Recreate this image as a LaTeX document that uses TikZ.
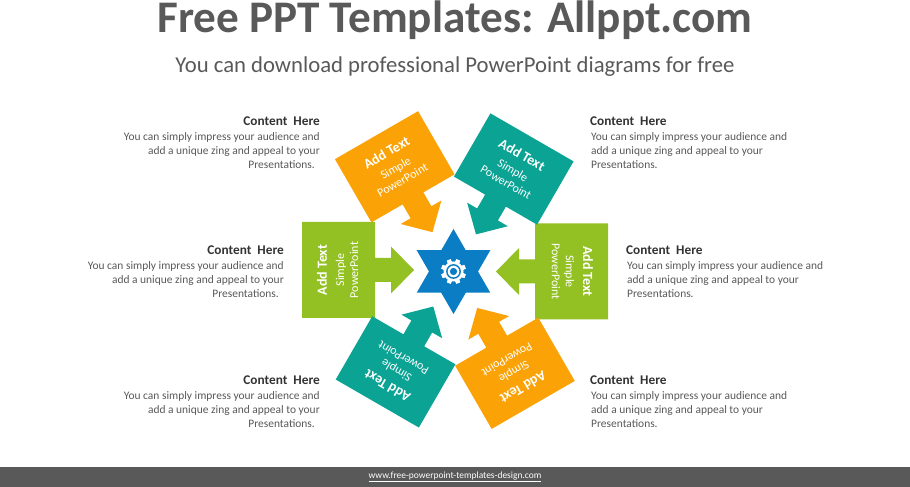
\documentclass[tikz,border=0pt]{standalone}
\usepackage{fontspec}
\setmainfont{Carlito}
\definecolor{cOrange}{HTML}{FBA207}
\definecolor{cTeal}{HTML}{0AA394}
\definecolor{cGreen}{HTML}{93C022}
\definecolor{cBlue}{HTML}{0B7DC4}
\definecolor{cGrey}{HTML}{595959}
\definecolor{cHead}{HTML}{333333}
\tikzset{
  armtitle/.style={text=white,font=\fontsize{14}{16}\selectfont\bfseries,inner sep=0pt,anchor=center},
  armtext/.style={text=white,font=\fontsize{12}{14}\selectfont,inner sep=0pt,anchor=center},
  blockhead/.style={text=cHead,font=\fontsize{13.3}{14}\selectfont\bfseries,inner sep=0pt},
  blockbody/.style={text=cGrey,font=\fontsize{11.45}{14}\selectfont,inner sep=0pt},
}
\newcommand{\armshape}[5]{%
  \begin{scope}[shift={(#2,#3)},rotate=#4]
    \fill[#5] (-73,-48) -- (0,-48) -- (0,-12) -- (16,-12) -- (16,-23.5) -- (39,0) -- (16,23.5) -- (16,12) -- (0,12) -- (0,48) -- (-73,48) -- cycle;
    \node[armtitle,rotate=#4+90] (#1t) at (-53,0) {Add Text};
    \node[armtext,rotate=#4+90] (#1s) at (-34,0) {Simple};
    \node[armtext,rotate=#4+90] (#1p) at (-21,0) {PowerPoint};
  \end{scope}}
\newcommand{\leftblock}[3]{%
  \node[blockhead,anchor=east] (#1h) at (#2,#3) {Content\ \ Here};
  \node[blockbody,anchor=north east,align=right] (#1b) at (#2,#3-10.5) {You can simply impress your audience and\\add a unique zing and appeal to your\\Presentations.\hspace*{5pt}};}
\newcommand{\rightblock}[3]{%
  \node[blockhead,anchor=west] (#1h) at (#2,#3) {Content\ \ Here};
  \node[blockbody,anchor=north west,align=left] (#1b) at (#2+1,#3-10.5) {You can simply impress your audience and\\add a unique zing and appeal to your\\Presentations.};}
\begin{document}
\begin{tikzpicture}[x=1pt,y=1pt]
\useasboundingbox (0,0) rectangle (910,487);
\fill[white] (0,0) rectangle (910,487);
\node[text=cGrey,inner sep=0pt,font=\fontsize{45.2}{50}\selectfont\bfseries] (title) at (455,466.5) {Free PPT Templates: Allppt.com};
\node[text=cGrey,inner sep=0pt,font=\fontsize{22.7}{26}\selectfont] (subtitle) at (455,420.5) {You can download professional PowerPoint diagrams for free};
\armshape{a}{375}{217}{0}{cGreen}
\armshape{b}{535}{215.5}{180}{cGreen}
\armshape{c}{413}{288.6}{-60}{cOrange}
\armshape{d}{495.5}{286.4}{-120}{cTeal}
\armshape{e}{413.8}{146.7}{60}{cTeal}
\armshape{f}{496.7}{145.3}{120}{cOrange}
% star
\begin{scope}[shift={(453.5,215.5)}]
  \fill[cBlue] (90:42.5) -- (210:42.5) -- (330:42.5) -- cycle;
  \fill[cBlue] (270:42.5) -- (30:42.5) -- (150:42.5) -- cycle;
  \foreach \a in {0,45,...,315}{
    \fill[white,rotate=\a+22.5] (-2.6,8) -- (-2,12.6) -- (2,12.6) -- (2.6,8) -- cycle;}
  \fill[white] (0,0) circle (10);
  \fill[cBlue] (0,0) circle (7.4);
  \fill[white] (0,0) circle (5.8);
  \fill[cBlue] (0,0) circle (3.6);
\end{scope}
\leftblock{g}{320}{365.5}
\leftblock{h}{284}{236.5}
\leftblock{i}{320}{106.5}
\rightblock{j}{590}{365.5}
\rightblock{k}{626}{236.5}
\rightblock{l}{590}{106.5}
\fill[cGrey] (0,0) rectangle (910,20);
\node[text=white,inner sep=0pt,font=\fontsize{9.45}{12}\selectfont] (foot) at (455,10) {\underline{www.free-powerpoint-templates-design.com}};
\end{tikzpicture}
\end{document}
